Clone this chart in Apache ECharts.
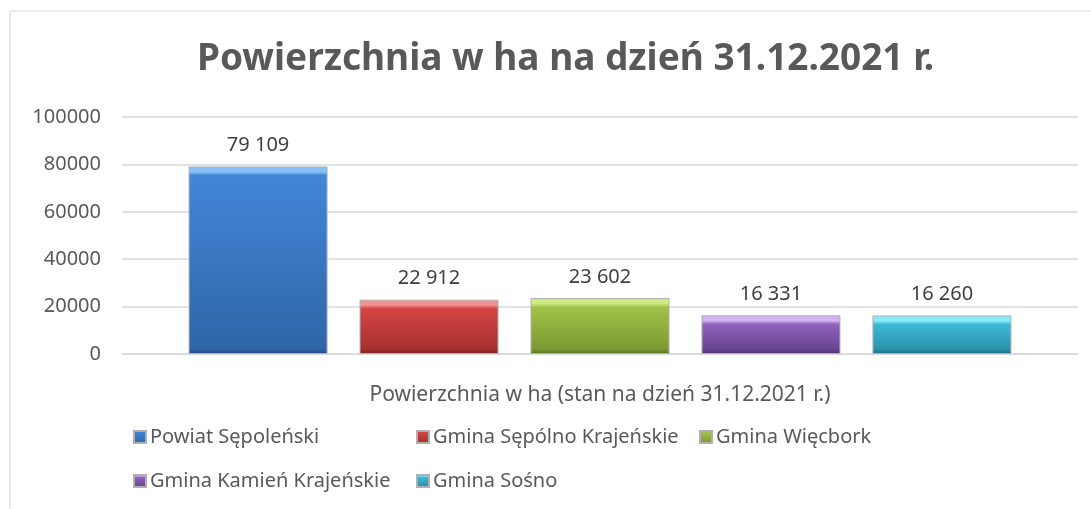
<!DOCTYPE html>
<html>
<head>
<meta charset="utf-8">
<script src="https://cdn.jsdelivr.net/npm/echarts@6/dist/echarts.min.js"></script>
<style>
  html, body { margin: 0; padding: 0; background: #fff; }
  #chart { width: 1091px; height: 509px; }
</style>
</head>
<body>
<div id="chart"></div>
<script>
  // dane
  const category = ['Powierzchnia w ha (stan na dzień 31.12.2021 r.)']
  const seriesNames = [
    'Powiat Sępoleński',
    'Gmina Sępólno Krajeńskie',
    'Gmina Więcbork',
    'Gmina Kamień Krajeńskie',
    'Gmina Sośno'
  ]
  const seriesValues = [79109, 22912, 23602, 16331, 16260]
  const yTicks = [0, 20000, 40000, 60000, 80000, 100000]

  // kolory: [jasny, główny góra, główny dół, ciemny]
  const palette = [
    ['#86c2f7', '#4286d8', '#2f66a8', '#22497c'],
    ['#f49090', '#d44444', '#a93030', '#7c2222'],
    ['#d0ea84', '#a0c24a', '#7d9a32', '#5b7222'],
    ['#d2b2f0', '#8e63bc', '#6b4694', '#4d3270'],
    ['#8ae9f9', '#3cbad6', '#2b93ad', '#1f6c80']
  ]

  const plotH = 237
  const fmt = v => String(v).replace(/\B(?=(\d{3})+(?!\d))/g, ' ')

  const bevel = (c, value) => {
    const h = value / yTicks[yTicks.length - 1] * plotH
    const f = Math.min(0.3, 9 / h)
    return {
      type: 'linear', x: 0, y: 0, x2: 0, y2: 1,
      colorStops: [
        { offset: 0, color: c[0] },
        { offset: f * 0.6, color: c[0] },
        { offset: f, color: c[1] },
        { offset: 1 - f * 0.6, color: c[2] },
        { offset: 1, color: c[3] }
      ]
    }
  }

  const chart = echarts.init(document.getElementById('chart'))

  const legendPos = [
    [128, 422], [411, 422], [694, 422],
    [128, 466], [411, 466]
  ]

  const option = {
    backgroundColor: '#fff',
    animation: false,
    textStyle: { fontFamily: 'Noto Sans' },
    graphic: [{
      type: 'rect',
      shape: { x: 10, y: 11, width: 1200, height: 700 },
      style: { fill: 'none', stroke: '#d9d9d9', lineWidth: 1 },
      silent: true
    }],
    title: {
      text: 'Powierzchnia w ha na dzień 31.12.2021 r.',
      left: 192,
      top: 36,
      textStyle: { fontSize: 37, fontWeight: 'bold', color: '#595959', fontFamily: 'Noto Sans' }
    },
    legend: seriesNames.map((n, i) => ({
      data: [n],
      left: legendPos[i][0],
      top: legendPos[i][1],
      icon: 'rect',
      itemWidth: 12,
      itemHeight: 12,
      textStyle: { fontSize: 20, color: '#595959', padding: [0, 0, 0, -1] }
    })),
    grid: { left: 122, right: 13, top: 117, bottom: 155 },
    xAxis: {
      type: 'category',
      data: category,
      name: category[0],
      nameLocation: 'middle',
      nameGap: 31,
      nameTextStyle: { fontSize: 21, color: '#595959' },
      axisLabel: { show: false },
      axisTick: { show: false },
      axisLine: { lineStyle: { color: '#d9d9d9', width: 1.5 } }
    },
    yAxis: {
      type: 'value',
      min: 0,
      max: 100000,
      interval: 20000,
      axisLabel: { fontSize: 20, color: '#595959', margin: 21, formatter: v => String(v) },
      axisLine: { show: false },
      axisTick: { show: false },
      splitLine: { lineStyle: { color: '#d9d9d9', width: 1.5 } }
    },
    series: seriesNames.map((n, i) => ({
      name: n,
      type: 'bar',
      data: [seriesValues[i]],
      barWidth: 139,
      barGap: '23%',
      itemStyle: {
        color: bevel(palette[i], seriesValues[i]),
        borderColor: '#b0b0b0',
        borderWidth: 1
      },
      label: {
        show: true,
        position: 'top',
        distance: 11,
        fontSize: 20,
        color: '#404040',
        formatter: p => fmt(p.value)
      }
    }))
  }

  chart.setOption(option)
</script>
</body>
</html>
